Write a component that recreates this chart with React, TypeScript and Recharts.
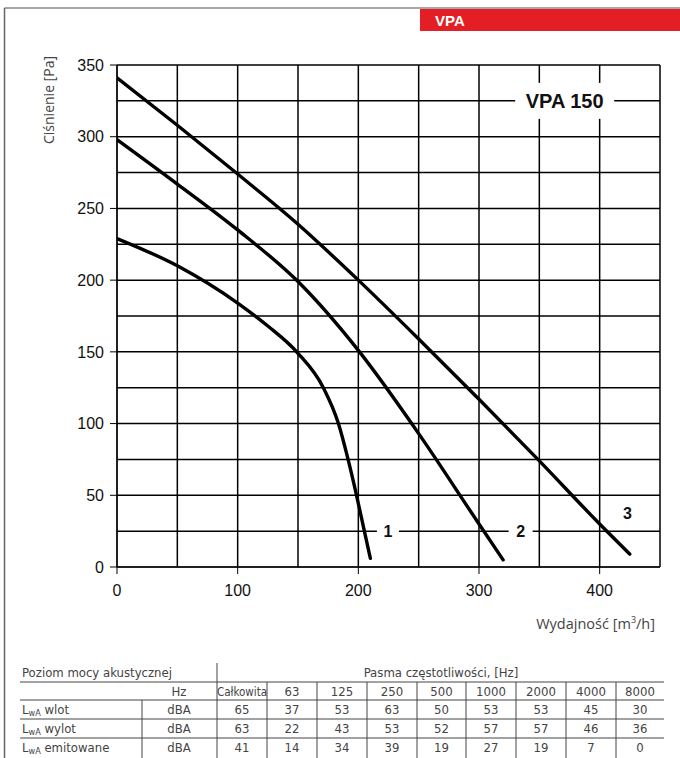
import React from "react";
import {
  LineChart, Line, XAxis, YAxis, CartesianGrid, ReferenceDot,
} from "recharts";

// fan curves: flow [m3/h] vs pressure [Pa]
const curve1Flow = [0, 50, 100, 125, 150, 171, 183.5, 191.5, 198.5, 205, 210];
const curve1Pressure = [229, 210, 184, 168, 149, 125, 100, 75, 50, 25, 6];
const curve2Flow = [0, 50, 100, 150, 200, 250, 300, 320];
const curve2Pressure = [298, 267, 235, 199, 151, 93, 30, 5];
const curve3Flow = [0, 50, 100, 150, 200, 250, 300, 350, 400, 425];
const curve3Pressure = [341, 308, 274, 239, 200, 159, 117, 74, 30, 9];

const xTicks = [0, 100, 200, 300, 400];
const yTicks = [0, 50, 100, 150, 200, 250, 300, 350];
const gridX = [0, 50, 100, 150, 200, 250, 300, 350, 400, 450];
const gridY = [0, 25, 50, 75, 100, 125, 150, 175, 200, 225, 250, 275, 300, 325, 350];

// acoustic table
const bandLabels = ["Całkowita", "63", "125", "250", "500", "1000", "2000", "4000", "8000"];
const rowNames = ["wlot", "wylot", "emitowane"];
const rowInlet = [65, 37, 53, 63, 50, 53, 53, 45, 30];
const rowOutlet = [63, 22, 43, 53, 52, 57, 57, 46, 36];
const rowEmitted = [41, 14, 34, 39, 19, 27, 19, 7, 0];

const toPoints = (q: number[], p: number[]) => q.map((v, i) => ({ q: v, p: p[i] }));

const tickFont = { fontSize: 16, fill: "#111", fontFamily: "Liberation Sans, Arial, sans-serif" };
const tableFont = "Liberation Sans Narrow, DejaVu Sans Condensed, sans-serif";

function CurveLabel(props: any) {
  const { cx, cy, text, w, h, size, bg } = props;
  return (
    <g>
      {bg && <rect x={cx - w / 2} y={cy - h / 2} width={w} height={h} fill="#fff" />}
      <text
        x={cx}
        y={cy}
        textAnchor="middle"
        dominantBaseline="central"
        fontFamily="Liberation Sans, Arial, sans-serif"
        fontWeight="bold"
        fontSize={size}
        fill="#111"
      >
        {text}
      </text>
    </g>
  );
}

function AcousticTable() {
  const cols = [217, 267, 317, 367, 417, 466, 516, 566, 616, 664];
  const rowY = [682, 700, 719, 738, 757];
  const rows = [rowInlet, rowOutlet, rowEmitted];
  return (
    <g fontFamily={tableFont} fill="#444" fontSize={13}>
      <line x1={217} y1={663} x2={217} y2={758} stroke="#444" strokeWidth={1} />
      <line x1={142} y1={700} x2={142} y2={758} stroke="#444" strokeWidth={1} />
      {rowY.slice(0, 4).map((y) => (
        <line key={y} x1={20} y1={y} x2={664} y2={y} stroke="#444" strokeWidth={1} />
      ))}
      {cols.slice(1, 9).map((x) => (
        <line key={x} x1={x} y1={682} x2={x} y2={758} stroke="#444" strokeWidth={1} />
      ))}
      <text x={22} y={677}>Poziom mocy akustycznej</text>
      <text x={441} y={677} textAnchor="middle">Pasma częstotliwości, [Hz]</text>
      <text x={179} y={696} textAnchor="middle">Hz</text>
      {bandLabels.map((b, i) => (
        <text
          key={b}
          x={(cols[i] + cols[i + 1]) / 2}
          y={696}
          textAnchor="middle"
          fontSize={i === 0 ? 11.5 : 13}
        >
          {b}
        </text>
      ))}
      {rows.map((vals, r) => (
        <g key={r}>
          <text x={22} y={rowY[r + 1] + 14}>
            L<tspan fontSize={9} dy={2}>wA</tspan>
            <tspan dy={-2}> {rowNames[r]}</tspan>
          </text>
          <text x={179} y={rowY[r + 1] + 14} textAnchor="middle">dBA</text>
          {vals.map((v, i) => (
            <text key={i} x={(cols[i] + cols[i + 1]) / 2} y={rowY[r + 1] + 14} textAnchor="middle">
              {v}
            </text>
          ))}
        </g>
      ))}
    </g>
  );
}

export default function App() {
  return (
    <div style={{ position: "absolute", left: 0, top: 0, width: 680, height: 758, background: "#fff" }}>
      <svg width={680} height={758} style={{ position: "absolute", left: 0, top: 0 }}>
        <line x1={4.5} y1={8} x2={680} y2={8} stroke="#888" strokeWidth={1.5} />
        <line x1={4.5} y1={8} x2={4.5} y2={758} stroke="#666" strokeWidth={1.5} />
        <rect x={420} y={9} width={260} height={22} fill="#E31E24" />
        <text x={435} y={26} fill="#fff" fontWeight="bold" fontSize={15}
          fontFamily="Liberation Sans, Arial, sans-serif">VPA</text>
        <text
          transform="translate(54,100) rotate(-90)"
          textAnchor="middle"
          fontSize={14}
          fill="#444"
          fontFamily="Open Sans, sans-serif"
        >
          Ciśnienie [Pa]
        </text>
        <text x={655} y={629} textAnchor="end" fontSize={14.5} fill="#444"
          fontFamily="Open Sans, sans-serif">
          Wydajność [m<tspan fontSize={9} dy={-6}>3</tspan><tspan dy={6}>/h]</tspan>
        </text>
        <AcousticTable />
      </svg>
      <div style={{ position: "absolute", left: 0, top: 0 }}>
        <LineChart width={680} height={645} margin={{ top: 65, right: 20, left: 57, bottom: 48 }}>
          <CartesianGrid
            stroke="#000"
            strokeWidth={1.5}
            horizontalValues={gridY}
            verticalValues={gridX}
          />
          <XAxis
            dataKey="q"
            type="number"
            domain={[0, 450]}
            ticks={xTicks}
            tick={tickFont}
            tickSize={7}
            tickMargin={11}
            height={30}
            stroke="#000"
            allowDataOverflow
          />
          <YAxis
            dataKey="p"
            type="number"
            domain={[0, 350]}
            ticks={yTicks}
            tick={tickFont}
            tickSize={7}
            tickMargin={6}
            width={60}
            stroke="#000"
          />
          <Line data={toPoints(curve1Flow, curve1Pressure)} dataKey="p" type="monotone"
            stroke="#000" strokeWidth={3.4} dot={false} strokeLinecap="round" isAnimationActive={false} />
          <Line data={toPoints(curve2Flow, curve2Pressure)} dataKey="p" type="monotone"
            stroke="#000" strokeWidth={3.4} dot={false} strokeLinecap="round" isAnimationActive={false} />
          <Line data={toPoints(curve3Flow, curve3Pressure)} dataKey="p" type="monotone"
            stroke="#000" strokeWidth={3.4} dot={false} strokeLinecap="round" isAnimationActive={false} />
          <ReferenceDot x={371} y={325} r={0} ifOverflow="visible"
            shape={(p: any) => <CurveLabel {...p} text="VPA 150" w={99} h={36} size={20} bg />} />
          <ReferenceDot x={224.5} y={25} r={0} ifOverflow="visible"
            shape={(p: any) => <CurveLabel {...p} text="1" w={22} h={14} size={16} bg />} />
          <ReferenceDot x={334.5} y={25} r={0} ifOverflow="visible"
            shape={(p: any) => <CurveLabel {...p} text="2" w={24} h={14} size={16} bg />} />
          <ReferenceDot x={423} y={37.5} r={0} ifOverflow="visible"
            shape={(p: any) => <CurveLabel {...p} text="3" w={20} h={14} size={16} />} />
        </LineChart>
      </div>
    </div>
  );
}
